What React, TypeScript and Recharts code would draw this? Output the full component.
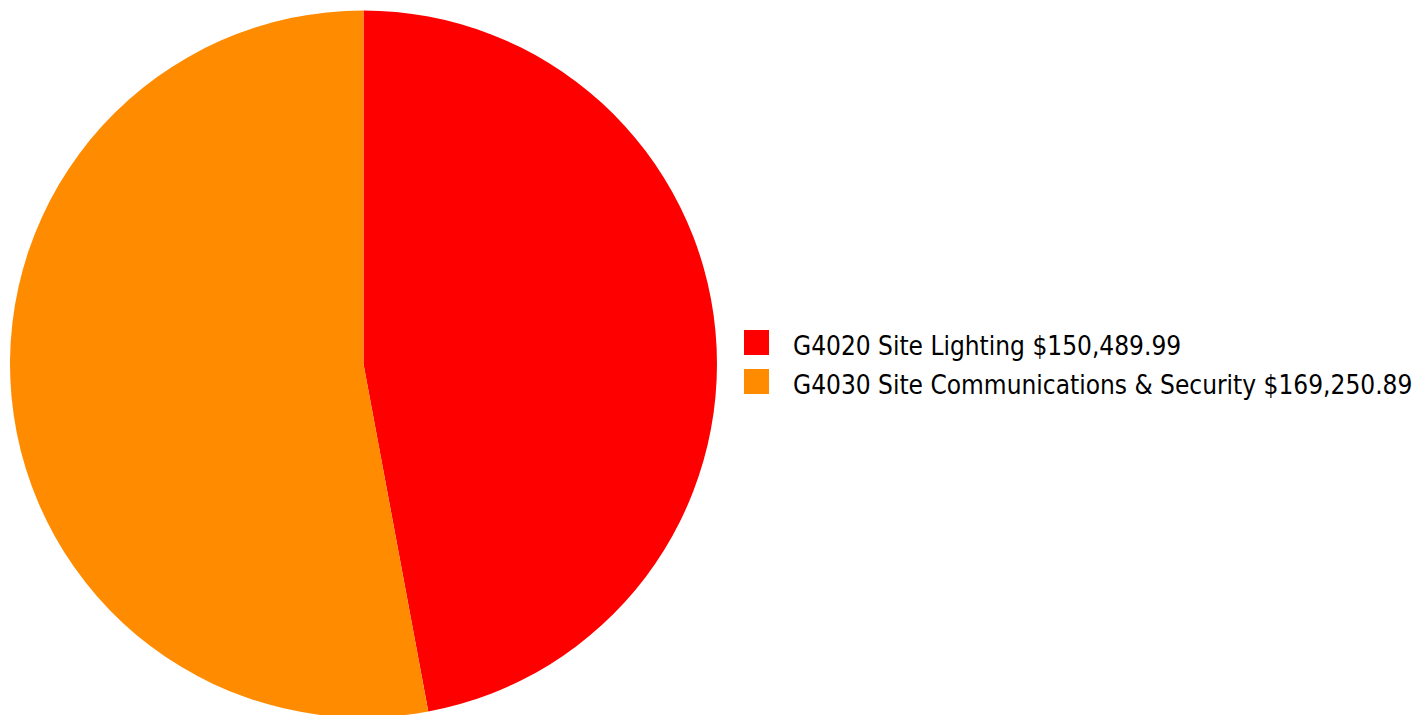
import React from "react";
import { PieChart, Pie, Cell, Legend } from "recharts";

const categories = [
  "G4020 Site Lighting",
  "G4030 Site Communications & Security",
];
const amounts = [150489.99, 169250.89];
const sliceColors = ["#ff0000", "#ff8c00"];

const data = categories.map((name, i) => ({ name, value: amounts[i] }));

const fmt = (v: number) =>
  "$" + v.toLocaleString("en-US", { minimumFractionDigits: 2, maximumFractionDigits: 2 });

function CostLegend() {
  return (
    <div style={{ fontFamily: "'DejaVu Sans Condensed', 'DejaVu Sans', sans-serif", fontSize: 26, color: "#000" }}>
      {data.map((d, i) => (
        <div key={d.name} style={{ display: "flex", alignItems: "center", height: 39 }}>
          <span
            style={{
              display: "inline-block",
              width: 25,
              height: 25,
              background: sliceColors[i],
              marginRight: 24,
            }}
          />
          <span style={{ position: "relative", top: 3 }}>
            {d.name} {fmt(d.value)}
          </span>
        </div>
      ))}
    </div>
  );
}

export default function App() {
  return (
    <div style={{ position: "absolute", left: 0, top: 0, background: "#fff" }}>
      <PieChart width={1414} height={715} margin={{ top: 0, right: 0, bottom: 0, left: 0 }}>
        <Pie
          data={data}
          dataKey="value"
          nameKey="name"
          cx={363.5}
          cy={364}
          outerRadius={353.5}
          startAngle={90}
          endAngle={-270}
          stroke="none"
          isAnimationActive={false}
        >
          {data.map((d, i) => (
            <Cell key={d.name} fill={sliceColors[i]} />
          ))}
        </Pie>
        <Legend
          content={<CostLegend />}
          wrapperStyle={{ left: 744, top: 323, width: 670 }}
        />
      </PieChart>
    </div>
  );
}
